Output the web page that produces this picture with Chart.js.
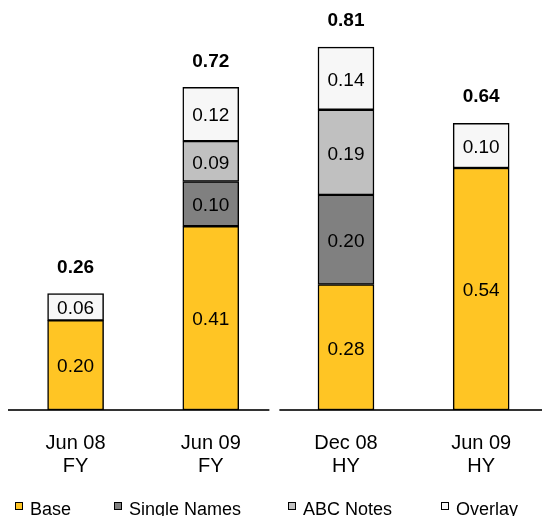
<!DOCTYPE html>
<html>
<head>
<meta charset="utf-8">
<script src="https://cdn.jsdelivr.net/npm/chart.js@4/dist/chart.umd.min.js"></script>
<style>
  html, body { margin: 0; padding: 0; background: #fff; overflow: hidden; }
  #wrap { position: relative; width: 542px; height: 516px; }
</style>
</head>
<body>
<div id="wrap"><canvas id="c"></canvas></div>
<script>
// ---- data ----
const categories = [["Jun 08", "FY"], ["Jun 09", "FY"], ["Dec 08", "HY"], ["Jun 09", "HY"]];
const baseValues = [0.20, 0.41, 0.28, 0.54];
const singleNamesValues = [0, 0.10, 0.20, 0];
const abcNotesValues = [0, 0.09, 0.19, 0];
const overlayValues = [0.06, 0.12, 0.14, 0.10];
const seriesNames = ["Base", "Single Names", "ABC Notes", "Overlay"];

const FONT = "'Liberation Sans', Arial, sans-serif";
const toPts = arr => arr.map((v, i) => ({ x: i, y: v }));

const common = { borderColor: '#000', borderWidth: 1.5, borderSkipped: false, barThickness: 56 };
const datasets = [
  Object.assign({ label: seriesNames[0], data: toPts(baseValues), backgroundColor: '#FFC524' }, common),
  Object.assign({ label: seriesNames[1], data: toPts(singleNamesValues), backgroundColor: '#808080' }, common),
  Object.assign({ label: seriesNames[2], data: toPts(abcNotesValues), backgroundColor: '#C0C0C0' }, common),
  Object.assign({ label: seriesNames[3], data: toPts(overlayValues), backgroundColor: '#F7F7F7' }, common)
];

const labelPlugin = {
  id: 'labels',
  afterDatasetsDraw(chart) {
    const ctx = chart.ctx;
    ctx.save();
    ctx.fillStyle = '#000';
    ctx.textAlign = 'center';
    ctx.textBaseline = 'middle';
    ctx.font = '19px ' + FONT;
    const tops = [];
    chart.data.datasets.forEach((ds, di) => {
      const meta = chart.getDatasetMeta(di);
      meta.data.forEach((bar, i) => {
        const v = ds.data[i].y;
        if (!v) return;
        ctx.fillText(v.toFixed(2), bar.x, (bar.y + bar.base) / 2 + 2);
        if (tops[i] === undefined || bar.y < tops[i].y) tops[i] = { x: bar.x, y: bar.y };
      });
    });
    ctx.font = 'bold 19px ' + FONT;
    tops.forEach((t, i) => {
      const total = chart.data.datasets.reduce((s, ds) => s + (ds.data[i].y || 0), 0);
      ctx.fillText(total.toFixed(2), t.x, t.y - 26);
    });
    ctx.restore();
  }
};

const baselinePlugin = {
  id: 'baseline',
  beforeDatasetsDraw(chart) {
    const { ctx, chartArea } = chart;
    const xs = chart.scales.x;
    const gapC = xs.getPixelForValue(1.5) - 4;
    const y = chartArea.bottom;
    ctx.save();
    ctx.strokeStyle = '#333';
    ctx.lineWidth = 2;
    ctx.beginPath();
    ctx.moveTo(chartArea.left, y); ctx.lineTo(gapC - 5, y);
    ctx.moveTo(gapC + 5, y); ctx.lineTo(chartArea.right, y);
    ctx.stroke();
    ctx.restore();
  }
};

// legend drawn below the axis, one column per series
const legendColumns = [15, 114, 288, 441];
const legendPlugin = {
  id: 'colLegend',
  afterDraw(chart) {
    const ctx = chart.ctx;
    const boxTop = chart.height - 14;
    ctx.save();
    ctx.font = '18px ' + FONT;
    ctx.textBaseline = 'middle';
    ctx.textAlign = 'left';
    chart.data.datasets.forEach((ds, i) => {
      const x = legendColumns[i];
      ctx.fillStyle = ds.backgroundColor;
      ctx.fillRect(x + 0.5, boxTop + 0.5, 7, 7);
      ctx.strokeStyle = '#000';
      ctx.lineWidth = 1;
      ctx.strokeRect(x + 0.5, boxTop + 0.5, 7, 7);
      ctx.fillStyle = '#000';
      ctx.fillText(ds.label, x + 15, boxTop + 8.5);
    });
    ctx.restore();
  }
};

new Chart(document.getElementById('c'), {
  type: 'bar',
  data: { datasets },
  plugins: [labelPlugin, baselinePlugin, legendPlugin],
  options: {
    responsive: true,
    maintainAspectRatio: false,
    animation: false,
    layout: { padding: { left: 8, right: 0, top: 0, bottom: 16 } },
    plugins: {
      tooltip: { enabled: false },
      legend: { display: false }
    },
    scales: {
      x: {
        type: 'linear', stacked: true, min: -0.5, max: 3.45, offset: false,
        grid: { display: false, drawTicks: false }, border: { display: false },
        afterBuildTicks(scale) { scale.ticks = categories.map((c, i) => ({ value: i })); },
        ticks: {
          padding: 22, color: '#000', maxRotation: 0, autoSkip: false,
          font: { family: FONT, size: 20, lineHeight: 23 / 20 },
          callback: (v) => categories[v]
        }
      },
      y: {
        stacked: true, min: 0, max: 0.915, display: false
      }
    }
  }
});
</script>
</body>
</html>
